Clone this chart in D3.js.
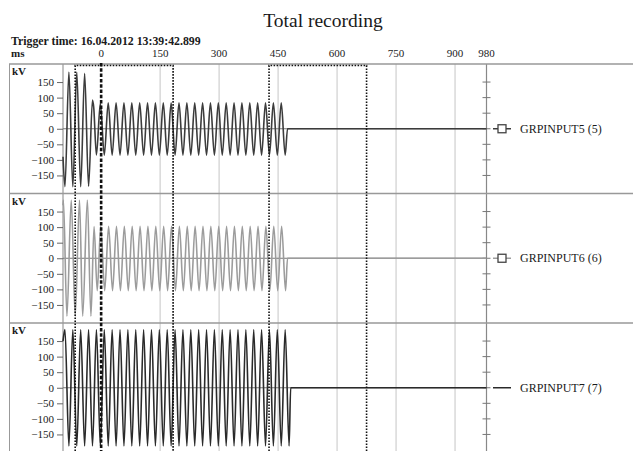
<!DOCTYPE html>
<html>
<head>
<meta charset="utf-8">
<script src="https://cdn.jsdelivr.net/npm/d3@7"></script>
<style>
  body { margin: 0; background: #fff; }
  svg text { font-family: "Liberation Serif", "DejaVu Serif", serif; fill: #1a1a1a; }
</style>
</head>
<body>
<svg id="chart" width="633" height="451"></svg>
<script>
// time axis (ms) and kV axis
var xTicks = [0, 150, 300, 450, 600, 750, 900, 980];
var gridTimes = [150, 300, 450, 600, 750, 900];
var kvTicks = [150, 100, 50, 0, -50, -100, -150];
var halfPeriod = 10; // extrema are read every half cycle (50 Hz)

// GRPINPUT5 : transient, then steady extrema, then flat after the trip
var ch5Head = [[-97, -90], [-92, -186], [-82, 182], [-72, -186], [-62, 182], [-52, -186], [-42, 178], [-32, -185], [-22, 92], [-19, 70], [-12, -84]];
var ch5Start = -2;
var ch5Steady = [82, -85, 83, -85, 83, -85, 83, -85, 83, -85, 83, -85, 83, -85, 83, -85, 83, -85, 83, -85, 83, -85, 83, -85,
                 83, -85, 83, -85, 83, -85, 83, -85, 83, -85, 83, -85, 83, -85, 83, -85, 83, -85, 83, -85, 83, -85, 83, -85];
var ch5Tail = [[474, 0], [980, 0]];

// GRPINPUT6
var ch6Head = [[-97, 170], [-96, 187], [-87, -186], [-76, 187], [-66, -186], [-55, 187], [-47, -186], [-35, 187], [-26, -186], [-18, 102], [-10, -104]];
var ch6Start = -1;
var ch6Steady = [103, -104, 103, -104, 103, -104, 103, -104, 103, -104, 103, -104, 103, -104, 103, -104, 103, -104, 103, -104, 103, -104, 103, -104,
                 103, -104, 103, -104, 103, -104, 103, -104, 103, -104, 103, -104, 103, -104, 103, -104, 103, -104, 103, -104, 103, -104, 103, -104];
var ch6Tail = [[474, 0], [980, 0]];

// GRPINPUT7
var ch7Head = [[-97, 150]];
var ch7Start = -92;
var ch7Steady = [187, -187, 187, -187, 187, -187, 187, -187, 187, -187, 187, -187, 187, -187, 187, -187, 187, -187, 187, -187,
                 187, -187, 187, -187, 187, -187, 187, -187, 187, -187, 187, -187, 187, -187, 187, -187, 187, -187, 187, -187,
                 187, -187, 187, -187, 187, -187, 187, -187, 187, -187, 187, -187, 187, -187, 187, -187, 187, -187];
var ch7Tail = [[482, 0], [980, 0]];

var channels = [
  {name: "GRPINPUT5 (5)", head: ch5Head, start: ch5Start, steady: ch5Steady, tail: ch5Tail, color: "#3c3c3c", marker: true},
  {name: "GRPINPUT6 (6)", head: ch6Head, start: ch6Start, steady: ch6Steady, tail: ch6Tail, color: "#9c9c9c", marker: true},
  {name: "GRPINPUT7 (7)", head: ch7Head, start: ch7Start, steady: ch7Steady, tail: ch7Tail, color: "#2a2a2a", marker: false}
];

// dotted zoom windows and the trigger marker
var windows = [[-66, 183], [427, 675]];
var triggerTime = 0;

var svg = d3.select("#chart");
var W = 633, H = 451;
var panelTops = [64, 193.5, 323], panelH = 129.5;

var x = d3.scaleLinear().domain([-97, 980]).range([63, 486.5]);

function pts(c) {
  var out = c.head.slice();
  c.steady.forEach(function (v, i) { out.push([c.start + i * halfPeriod, v]); });
  return out.concat(c.tail);
}

// titles
svg.append("text").attr("x", 323).attr("y", 27).attr("text-anchor", "middle")
  .style("font-size", "19.5px").text("Total recording");
svg.append("text").attr("x", 11).attr("y", 45).style("font-size", "11.8px").style("font-weight", "bold")
  .text("Trigger time: 16.04.2012 13:39:42.899");
svg.append("text").attr("x", 11).attr("y", 57).style("font-size", "11px").style("font-weight", "bold").text("ms");

svg.selectAll(".xlab").data(xTicks).enter().append("text")
  .attr("class", "xlab")
  .attr("x", function (d) { return x(d); }).attr("y", 57)
  .attr("text-anchor", "middle").style("font-size", "11px").text(function (d) { return d; });

// vertical grid
svg.selectAll(".grid").data(gridTimes).enter().append("line")
  .attr("x1", function (d) { return x(d); }).attr("x2", function (d) { return x(d); })
  .attr("y1", 64).attr("y2", H)
  .attr("stroke", "#cfcfcf").attr("stroke-width", 1.2);

// frame
svg.append("line").attr("x1", 9.5).attr("x2", 9.5).attr("y1", 64).attr("y2", H).attr("stroke", "#999");
svg.append("line").attr("x1", 63).attr("x2", 63).attr("y1", 64).attr("y2", H).attr("stroke", "#999").attr("stroke-width", 1.2);
svg.append("line").attr("x1", x(980)).attr("x2", x(980)).attr("y1", 64).attr("y2", H).attr("stroke", "#888").attr("stroke-width", 1.2);
panelTops.forEach(function (t) {
  svg.append("line").attr("x1", 9).attr("x2", W).attr("y1", t).attr("y2", t).attr("stroke", "#999").attr("stroke-width", 1.3);
});

channels.forEach(function (c, i) {
  var top = panelTops[i];
  var y = d3.scaleLinear().domain([-208, 208]).range([top + panelH, top]);
  var g = svg.append("g");

  g.append("text").attr("x", 12).attr("y", top + 11).style("font-size", "11px").style("font-weight", "bold").text("kV");

  g.append("g").attr("transform", "translate(63,0)")
    .call(d3.axisLeft(y).tickValues(kvTicks).tickSize(6).tickPadding(3))
    .call(function (a) {
      a.select(".domain").remove();
      a.selectAll("line").attr("stroke", "#666");
      a.selectAll("text").style("font-size", "11px").style("font-family", "Liberation Serif, serif").attr("fill", "#1a1a1a");
    });

  // right axis ticks
  g.selectAll(".rt").data(kvTicks).enter().append("line")
    .attr("x1", x(980) - 4).attr("x2", x(980) + 4)
    .attr("y1", function (d) { return y(d); }).attr("y2", function (d) { return y(d); })
    .attr("stroke", "#777");

  // zero line
  g.append("line").attr("x1", 63).attr("x2", x(980)).attr("y1", y(0)).attr("y2", y(0))
    .attr("stroke", "#777").attr("stroke-width", 1);

  var line = d3.line().x(function (d) { return x(d[0]); }).y(function (d) { return y(d[1]); })
    .curve(d3.curveMonotoneX);
  g.append("path").attr("d", line(pts(c)))
    .attr("fill", "none").attr("stroke", c.color).attr("stroke-width", 1.6);

  // legend
  g.append("line").attr("x1", 493).attr("x2", 511).attr("y1", y(0)).attr("y2", y(0))
    .attr("stroke", c.color).attr("stroke-width", 1.5);
  if (c.marker) {
    g.append("rect").attr("x", 498).attr("y", y(0) - 4).attr("width", 8).attr("height", 8)
      .attr("fill", "#fff").attr("stroke", "#444").attr("stroke-width", 1.3);
  }
  g.append("text").attr("x", 520).attr("y", y(0) + 4).style("font-size", "12px")
    .text(c.name);
});

// dotted windows
windows.forEach(function (w) {
  svg.append("path")
    .attr("d", "M" + x(w[0]) + "," + H + "V65.5H" + x(w[1]) + "V" + H)
    .attr("fill", "none").attr("stroke", "#111").attr("stroke-width", 1.6).attr("stroke-dasharray", "1.6,1.4");
});

// trigger marker
svg.append("line").attr("x1", x(triggerTime)).attr("x2", x(triggerTime)).attr("y1", 63).attr("y2", H)
  .attr("stroke", "#111").attr("stroke-width", 2.6).attr("stroke-dasharray", "3.5,1.8");
</script>
</body>
</html>
